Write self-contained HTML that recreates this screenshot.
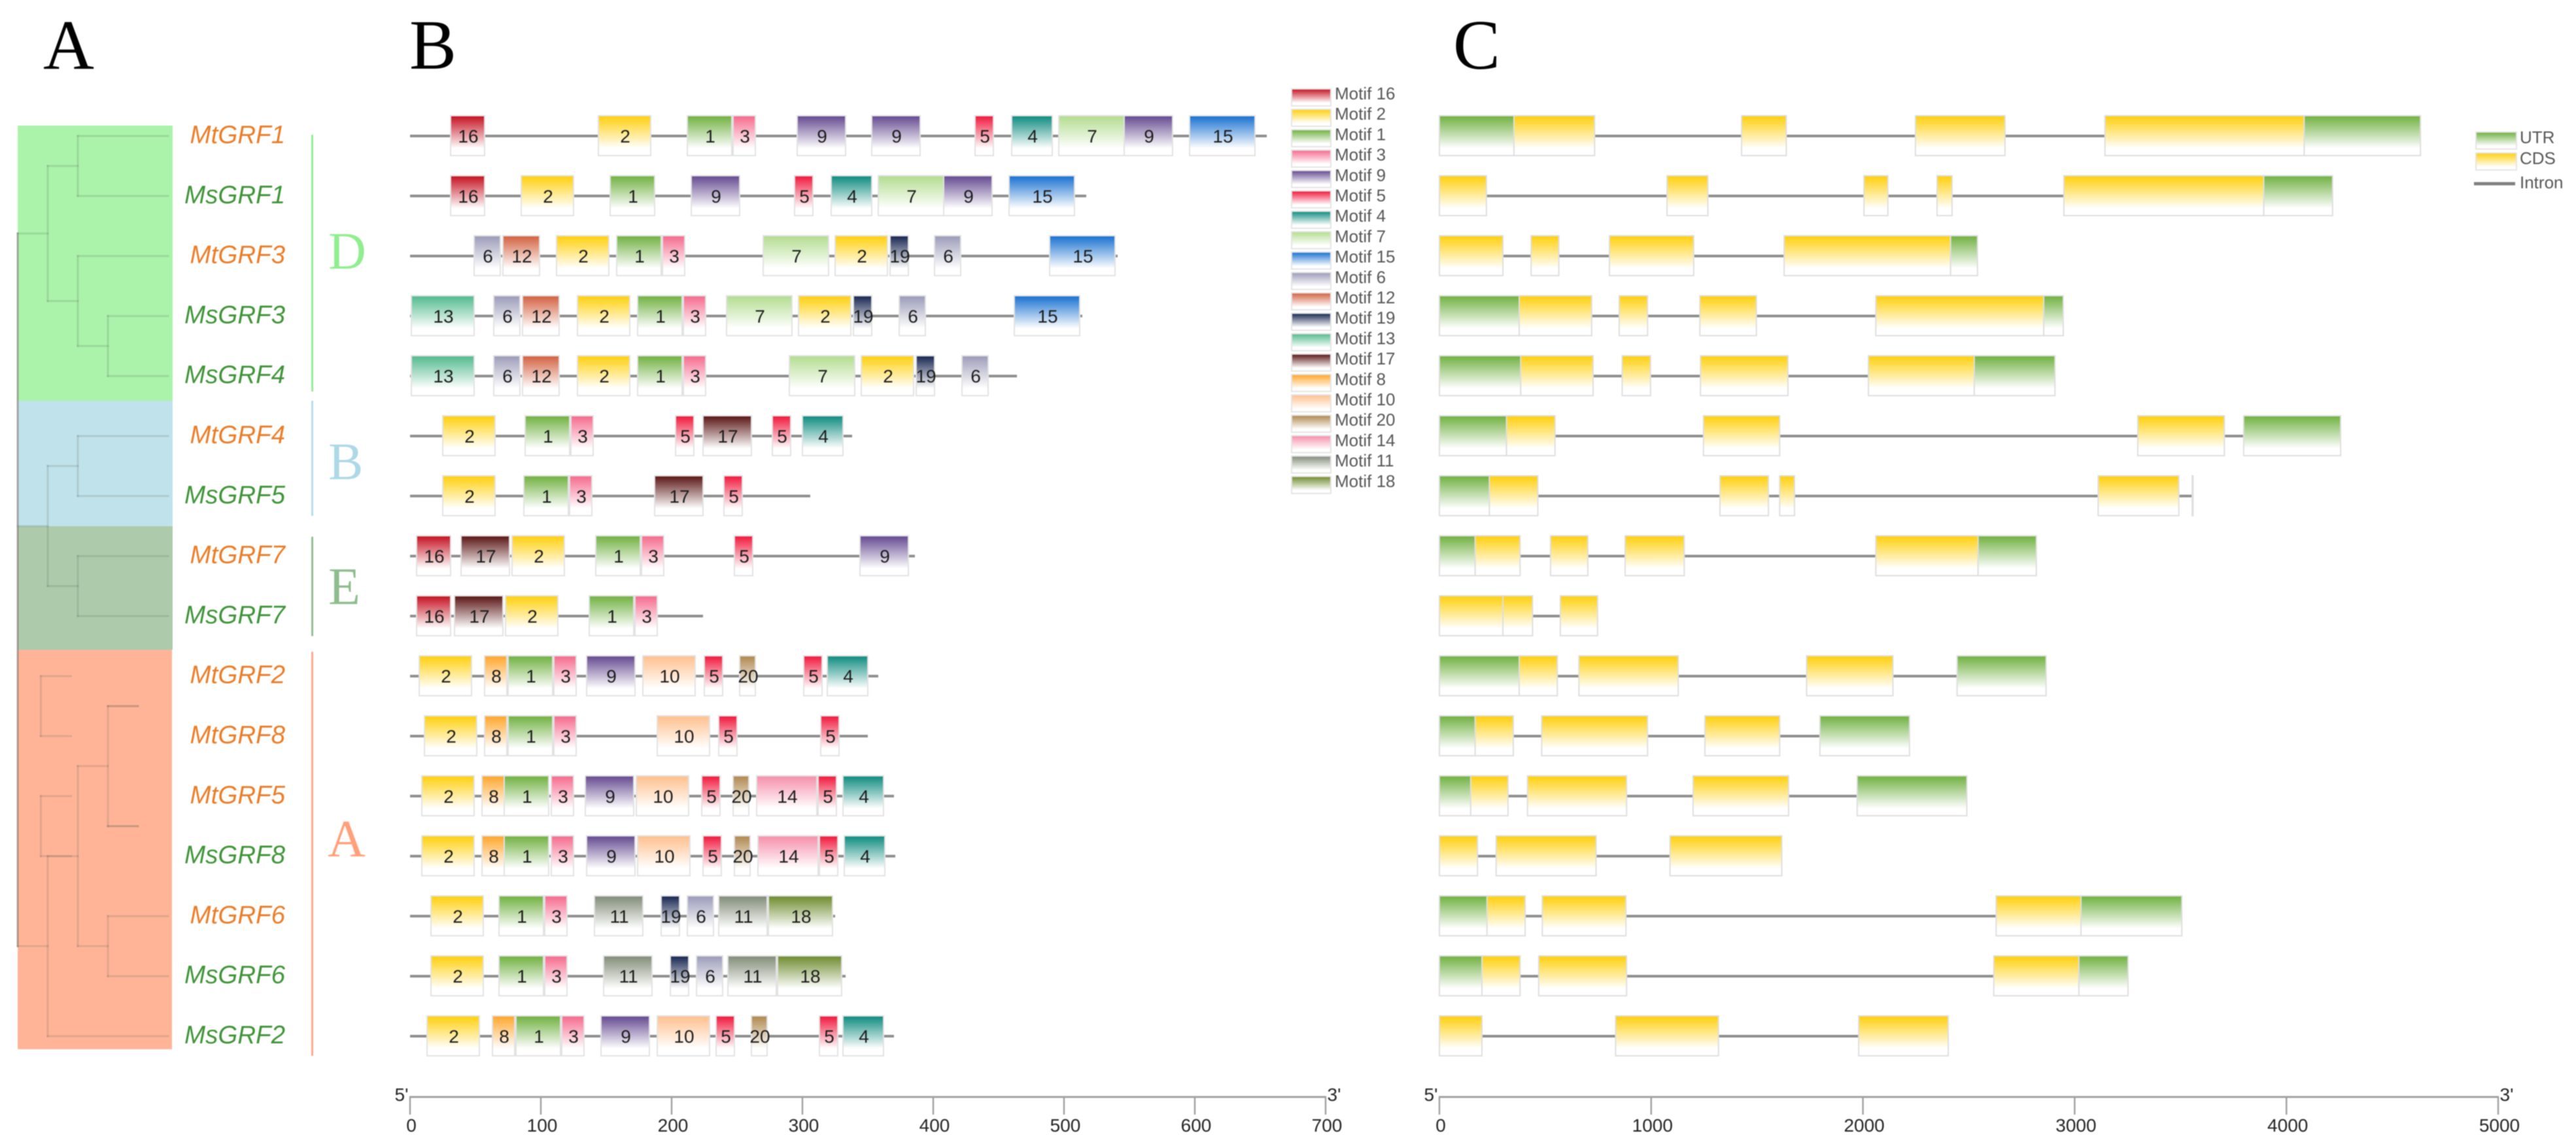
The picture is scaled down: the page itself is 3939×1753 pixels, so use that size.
<!DOCTYPE html>
<html lang="en">
<head>
<meta charset="utf-8">
<title>GRF phylogeny, motifs and gene structure</title>
<style>
html,body{margin:0;padding:0;background:#fff;}
svg{display:block;font-family:"Liberation Sans",Arial,sans-serif;filter:blur(0.7px);}
.panel{font-family:"Liberation Serif",serif;font-size:108px;fill:#000;}
.clade{font-family:"Liberation Serif",serif;font-size:80px;}
</style>
</head>
<body>
<svg id="figure" width="3939" height="1753" viewBox="0 0 3939 1753" xmlns="http://www.w3.org/2000/svg">
<defs id="grads"></defs>
<rect x="0" y="0" width="3939" height="1753" fill="#fff"/>
<text class="panel" x="66" y="105">A</text>
<text class="panel" x="626" y="105">B</text>
<text class="panel" x="2222" y="105">C</text>
<rect x="27" y="192" width="237" height="421" fill="#abf2ab"/>
<rect x="27" y="613" width="237" height="192" fill="#c0e2ea"/>
<rect x="27" y="805" width="237" height="189" fill="#adcbab"/>
<rect x="27" y="994" width="236" height="611" fill="#ffb498"/>
<g id="tree"></g>
<g id="genes"></g>
<rect x="476" y="206" width="3" height="393" fill="#90ee90"/>
<rect x="476" y="613" width="3" height="176" fill="#b4dce8"/>
<rect x="476" y="821" width="3" height="152" fill="#8fbc8f"/>
<rect x="476" y="997" width="3" height="618" fill="#ffa788"/>
<text class="clade" x="502" y="411" fill="#90ee90">D</text>
<text class="clade" x="502" y="733" fill="#add8e6">B</text>
<text class="clade" x="502" y="924" fill="#8fbc8f">E</text>
<text class="clade" x="501" y="1310" fill="#ffa07a">A</text>
<g id="motifs"></g>
<g id="motif-legend"></g>
<g id="structures"></g>
<g id="structure-legend"></g>
<g id="axes"></g>
</svg>
<script>
const geneNames = ["MtGRF1","MsGRF1","MtGRF3","MsGRF3","MsGRF4","MtGRF4","MsGRF5","MtGRF7","MsGRF7","MtGRF2","MtGRF8","MtGRF5","MsGRF8","MtGRF6","MsGRF6","MsGRF2"];
const motifOrder = [16,2,1,3,9,5,4,7,15,6,12,19,13,17,8,10,20,14,11,18];
const motifLengths = {1:34,2:40,3:17,4:31,5:14,6:20,7:50,8:17,9:37,10:40,11:37,12:28,13:48,14:46,15:50,16:26,17:37,18:49,19:14,20:12};
const proteinLengths = [655,517,541,514,464,338,306,386,224,358,350,370,371,325,333,370];
const motifRows = [
 [[16,31],[2,144],[1,212],[3,247],[9,296],[9,353],[5,432],[4,460],[7,496],[9,546],[15,596]],
 [[16,31],[2,85],[1,153],[9,215],[5,294],[4,322],[7,358],[9,408],[15,458]],
 [[6,49],[12,71],[2,112],[1,158],[3,193],[7,270],[2,325],[19,367],[6,401],[15,489]],
 [[13,1],[6,64],[12,86],[2,128],[1,174],[3,209],[7,242],[2,297],[19,339],[6,374],[15,462]],
 [[13,1],[6,64],[12,86],[2,128],[1,174],[3,209],[7,290],[2,345],[19,387],[6,422]],
 [[2,25],[1,88],[3,123],[5,203],[17,224],[5,277],[4,300]],
 [[2,25],[1,87],[3,122],[17,187],[5,240]],
 [[16,5],[17,39],[2,78],[1,142],[3,177],[5,248],[9,344]],
 [[16,5],[17,34],[2,73],[1,137],[3,172]],
 [[2,7],[8,57],[1,75],[3,110],[9,135],[10,178],[5,225],[20,252],[5,301],[4,319]],
 [[2,11],[8,57],[1,75],[3,110],[10,189],[5,236],[5,314]],
 [[2,9],[8,55],[1,72],[3,108],[9,134],[10,173],[5,223],[20,247],[14,265],[5,312],[4,331]],
 [[2,9],[8,55],[1,72],[3,108],[9,135],[10,174],[5,224],[20,248],[14,266],[5,313],[4,332]],
 [[2,16],[1,68],[3,103],[11,141],[19,192],[6,212],[11,236],[18,274]],
 [[2,16],[1,68],[3,103],[11,148],[19,199],[6,219],[11,243],[18,281]],
 [[2,13],[8,63],[1,81],[3,116],[9,146],[10,189],[5,234],[20,261],[5,313],[4,331]]
];
const motifTicks = [0,100,200,300,400,500,600,700];
const structureTicks = [0,1000,2000,3000,4000,5000];
const structureRows = [
 [["UTR",0,352],["CDS",352,733],["CDS",1427,1638],["CDS",2248,2671],["CDS",3143,4084],["UTR",4084,4633]],
 [["CDS",0,222],["CDS",1075,1268],["CDS",2005,2118],["CDS",2350,2421],["CDS",2949,3893],["UTR",3893,4218]],
 [["CDS",0,300],["CDS",433,564],["CDS",803,1201],["CDS",1628,2414],["UTR",2414,2541]],
 [["UTR",0,377],["CDS",377,719],["CDS",849,983],["CDS",1230,1497],["CDS",2061,2854],["UTR",2854,2946]],
 [["UTR",0,384],["CDS",384,726],["CDS",863,997],["CDS",1233,1646],["CDS",2026,2526],["UTR",2526,2907]],
 [["UTR",0,317],["CDS",317,546],["CDS",1247,1607],["CDS",3298,3707],["UTR",3798,4256]],
 [["UTR",0,236],["CDS",236,465],["CDS",1325,1554],["CDS",1607,1677],["CDS",3111,3492],["UTR",3555,3559]],
 [["UTR",0,169],["CDS",169,381],["CDS",525,701],["CDS",877,1156],["CDS",2061,2544],["UTR",2544,2819]],
 [["CDS",0,300],["CDS",300,440],["CDS",571,747]],
 [["UTR",0,377],["CDS",377,557],["CDS",659,1128],["CDS",1734,2142],["UTR",2445,2865]],
 [["UTR",0,169],["CDS",169,349],["CDS",483,983],["CDS",1254,1607],["UTR",1797,2220]],
 [["UTR",0,148],["CDS",148,324],["CDS",416,884],["CDS",1198,1649],["UTR",1973,2491]],
 [["CDS",0,180],["CDS",268,740],["CDS",1089,1617]],
 [["UTR",0,225],["CDS",225,405],["CDS",486,881],["CDS",2629,3030],["UTR",3030,3506]],
 [["UTR",0,201],["CDS",201,381],["CDS",469,884],["CDS",2618,3020],["UTR",3020,3252]],
 [["CDS",0,201],["CDS",832,1318],["CDS",1980,2403]]
];
/* Tree: depth 0..1 from root to tips, "row" = index in geneNames, "shift" = redrawn offset of a cut sub-clade */
const treeData = {d:0,kids:[
 {d:.2,kids:[{d:.4,kids:[{d:1,row:0},{d:1,row:1}]},{d:.4,kids:[{d:1,row:2},{d:.6,kids:[{d:1,row:3},{d:1,row:4}]}]}]},
 {d:.2,kids:[{d:.4,kids:[{d:1,row:5},{d:1,row:6}]},{d:.4,kids:[{d:1,row:7},{d:1,row:8}]}]},
 {d:.2,kids:[
  {d:.4,kids:[
   {d:.6,kids:[{d:.8,shift:-.646,kids:[{d:1,row:9},{d:1,row:10}]},{d:.8,shift:-.646,kids:[{d:1,row:11},{d:1,row:12}]}]},
   {d:.6,kids:[{d:1,row:13},{d:1,row:14}]}
  ]},
  {d:1,row:15}
 ]}
]};

const motifColors = {16:"#c40f1e",2:"#ffcf0a",1:"#6fb03f",3:"#f5688c",9:"#63488f",5:"#f0153a",4:"#0c8a7e",7:"#b2dc8e",15:"#166fd0",6:"#9a9ab8",12:"#d25f3e",19:"#14224e",13:"#50b98c",17:"#581212",8:"#ffa428",10:"#ffbf8c",20:"#ae864c",14:"#f58eaa",11:"#808a76",18:"#6d8a2c"};
const featureColors = {UTR:"#6fb03f",CDS:"#ffcf0a"};

const SVGNS = "http://www.w3.org/2000/svg";
const rowY = i => 208 + 91.8 * i;
const xMotif = aa => 627 + 2 * aa;
const xGene = bp => 2201 + 0.3238 * bp;
const xTree = d => 27 + 230 * d;
const BOX_UP = 31, BOX_DOWN = 30;

function make(parent, tag, attrs, text) {
  const e = document.createElementNS(SVGNS, tag);
  for (const k in attrs) e.setAttribute(k, attrs[k]);
  if (text !== undefined) e.textContent = text;
  parent.appendChild(e);
  return e;
}
const defs = document.getElementById("grads");
function addGradient(id, color) {
  const g = make(defs, "linearGradient", {id: id, x1: 0, y1: 0, x2: 0, y2: 1});
  make(g, "stop", {offset: "0", "stop-color": color});
  make(g, "stop", {offset: "0.82", "stop-color": "#ffffff"});
  make(g, "stop", {offset: "1", "stop-color": "#ffffff"});
}
motifOrder.forEach(m => addGradient("m" + m, motifColors[m]));
Object.keys(featureColors).forEach(f => addGradient("f" + f, featureColors[f]));

/* gene labels */
const genesG = document.getElementById("genes");
geneNames.forEach((name, i) => {
  const t = make(genesG, "text", {x: 436, y: rowY(i) + 11, "text-anchor": "end", "font-size": 38.5, "font-style": "italic", fill: name.startsWith("Mt") ? "#e87d28" : "#3f9338"}, name);
  
  
});

/* tree */
const treeG = document.getElementById("tree");
function seg(x1, y1, x2, y2, strong) {
  const l = make(treeG, "line", {x1: x1, y1: y1, x2: x2, y2: y2, stroke: strong ? "rgba(90,70,70,.45)" : "rgba(70,80,70,.16)", "stroke-width": 3, "stroke-linecap": "square"});
  
  
}
function nodeY(n) {
  if (n.kids) { const ys = n.kids.map(nodeY); return (ys[0] + ys[ys.length - 1]) / 2; }
  return rowY(n.row);
}
function drawNode(n, isRoot) {
  if (!n.kids) return;
  const shift = n.shift || 0;
  const ys = n.kids.map(nodeY);
  seg(xTree(n.d + shift), ys[0], xTree(n.d + shift), ys[ys.length - 1], isRoot);
  n.kids.forEach((k, i) => {
    seg(xTree(n.d + shift), ys[i], xTree(k.d + shift), ys[i], false);
    drawNode(k, false);
  });
}
/* a cut sub-clade leaves a stub at its parent and is redrawn further left */
function drawStubs(n) {
  if (!n.kids) return;
  n.kids.forEach(k => {
    if (k.shift) seg(xTree(n.d), nodeY(k), xTree(k.d), nodeY(k), false);
    drawStubs(k);
  });
}
drawNode(treeData, true);
drawStubs(treeData);

/* motif panel */
const motifsG = document.getElementById("motifs");
motifRows.forEach((row, i) => {
  const y = rowY(i);
  const line = make(motifsG, "line", {x1: xMotif(0), y1: y, x2: xMotif(proteinLengths[i]), y2: y, stroke: "#8c8c8c", "stroke-width": 4});
  
  
  row.forEach(([m, start]) => {
    const x0 = xMotif(start), x1 = xMotif(start + motifLengths[m]);
    const r = make(motifsG, "rect", {x: x0, y: y - BOX_UP, width: x1 - x0, height: BOX_UP + BOX_DOWN, fill: "url(#m" + m + ")", stroke: "#e2e2e2", "stroke-width": 2});
    
    
    const t = make(motifsG, "text", {x: (x0 + x1) / 2 + 1, y: y + 10, "text-anchor": "middle", "font-size": 28, fill: "#1c1c1c"}, String(m));
    
    
  });
});

/* motif legend */
const mLeg = document.getElementById("motif-legend");
motifOrder.forEach((m, i) => {
  const yc = 143 + 31.2 * i;
  const r = make(mLeg, "rect", {x: 1975, y: yc - 7, width: 60, height: 26, fill: "url(#m" + m + ")", stroke: "#e4e4e4", "stroke-width": 2});
  
  
  const t = make(mLeg, "text", {x: 2041, y: yc + 9, "font-size": 26, fill: "#555"}, "Motif " + m);
  
  
});

/* gene structures */
const structG = document.getElementById("structures");
structureRows.forEach((row, i) => {
  const y = rowY(i);
  const end = row[row.length - 1][2];
  const line = make(structG, "line", {x1: xGene(0), y1: y, x2: xGene(end), y2: y, stroke: "#8c8c8c", "stroke-width": 4});
  
  
  row.forEach(([kind, s, e]) => {
    const r = make(structG, "rect", {x: xGene(s), y: y - BOX_UP, width: xGene(e) - xGene(s), height: BOX_UP + BOX_DOWN, fill: "url(#f" + kind + ")", stroke: "#dedede", "stroke-width": 2});
    
    
  });
});

/* structure legend */
const sLeg = document.getElementById("structure-legend");
["UTR","CDS"].forEach((k, i) => {
  const y = 202 + 32 * i;
  const r = make(sLeg, "rect", {x: 3786, y: y, width: 62, height: 26, fill: "url(#f" + k + ")", stroke: "#e4e4e4", "stroke-width": 2});
  
  
  const t = make(sLeg, "text", {x: 3853, y: y + 17, "font-size": 26, fill: "#555"}, k);
  
  
});
const intronSwatch = make(sLeg, "line", {x1: 3783, y1: 281, x2: 3846, y2: 281, stroke: "#808080", "stroke-width": 5});


const intronLabel = make(sLeg, "text", {x: 3853, y: 288, "font-size": 26, fill: "#555"}, "Intron");



/* axes */
const axesG = document.getElementById("axes");
function drawAxis(ticks, scale, prefix) {
  const y = 1678;
  const first = scale(ticks[0]), last = scale(ticks[ticks.length - 1]);
  const base = make(axesG, "line", {x1: first - 1, y1: y, x2: last + 1, y2: y, stroke: "#a0a0a0", "stroke-width": 3});
  
  
  ticks.forEach(v => {
    const tk = make(axesG, "line", {x1: scale(v), y1: y, x2: scale(v), y2: y + 27, stroke: "#a0a0a0", "stroke-width": 2.5});
    
    
    const lb = make(axesG, "text", {x: scale(v) + 2, y: 1731, "text-anchor": "middle", "font-size": 28, fill: "#222"}, String(v));
    
    
  });
  const five = make(axesG, "text", {x: first - 13, y: 1684, "text-anchor": "middle", "font-size": 28, fill: "#222"}, "5'");
  
  
  const three = make(axesG, "text", {x: last + 13, y: 1684, "text-anchor": "middle", "font-size": 28, fill: "#222"}, "3'");
  
  
}
drawAxis(motifTicks, xMotif, 'motif');
drawAxis(structureTicks, xGene, 'structure');
</script>
</body>
</html>
